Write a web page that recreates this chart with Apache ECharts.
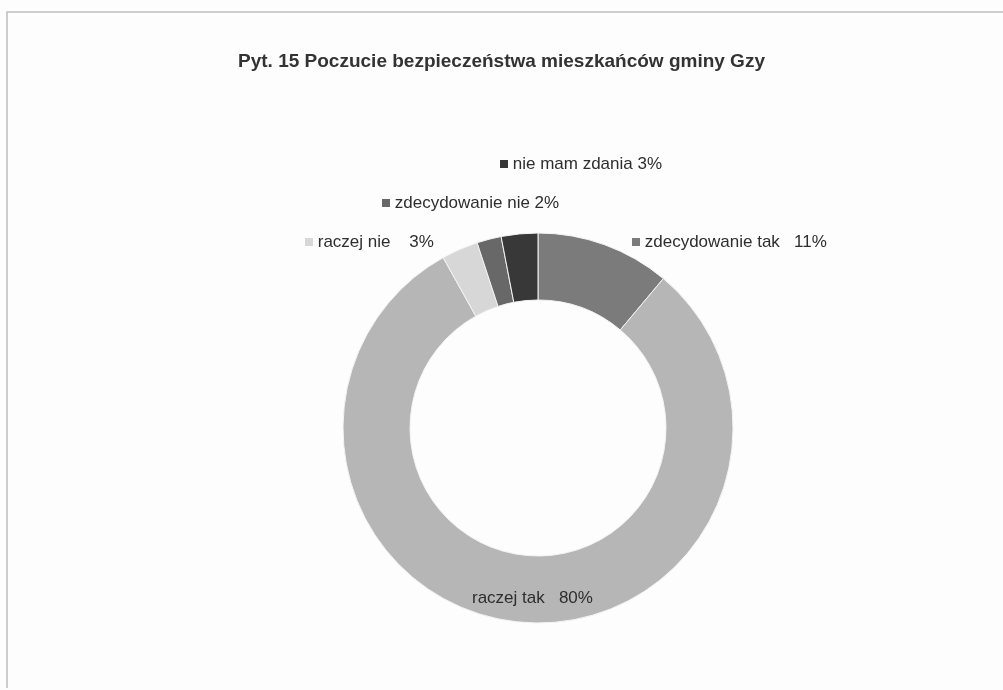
<!DOCTYPE html>
<html>
<head>
<meta charset="utf-8">
<script src="https://cdn.jsdelivr.net/npm/echarts@6/dist/echarts.min.js"></script>
<style>
  html, body { margin: 0; padding: 0; background: #fdfdfd; }
  #chart { width: 1003px; height: 690px; }
</style>
</head>
<body>
<div id="chart"></div>
<script>
const titleText = 'Pyt. 15 Poczucie bezpieczeństwa mieszkańców gminy Gzy'
const categories = ['zdecydowanie tak', 'raczej tak', 'raczej nie', 'zdecydowanie nie', 'nie mam zdania']
const values = [11, 80, 3, 2, 3]
const labelGaps = ['   ', '   ', '    ', ' ', ' ']
const colors = ['#7b7b7b', '#b6b6b6', '#d7d7d7', '#686868', '#383838']

// label anchors (left edge, middle) — placed like the original Excel chart
const labelSpots = [
  [632, 242],
  [472, 598],
  [305, 242],
  [382, 203],
  [500, 164]
]

const rich = {
  t: { fontSize: 17, color: '#2e2e2e', fontFamily: 'Liberation Sans, Arial, sans-serif' }
}
colors.forEach((c, i) => {
  rich['m' + i] = { width: 8, height: 8, backgroundColor: c }
})

const chart = echarts.init(document.getElementById('chart'))
const option = {
  backgroundColor: '#fdfdfd',
  animation: false,
  title: {
    text: titleText,
    left: 'center',
    top: 47,
    textStyle: {
      fontFamily: 'Liberation Sans, Arial, sans-serif',
      fontSize: 19,
      fontWeight: 'bold',
      color: '#333'
    }
  },
  graphic: [
    {
      type: 'polyline',
      shape: { points: [[7, 688], [7, 12], [1003, 12]] },
      style: { stroke: '#bdbdbd', lineWidth: 1.5, fill: null }
    }
  ],
  series: [{
    type: 'pie',
    center: [538, 428],
    radius: [128, 195],
    startAngle: 90,
    clockwise: true,
    data: categories.map((name, i) => ({
      name,
      value: values[i],
      itemStyle: { color: colors[i] }
    })),
    itemStyle: { borderColor: '#f4f4f4', borderWidth: 1 },
    label: {
      show: true,
      position: 'outside',
      formatter: p => {
        const txt = p.name + labelGaps[p.dataIndex] + p.value + '%'
        if (p.dataIndex === 1) return '{t|' + txt + '}'
        return '{m' + p.dataIndex + '|}{t| ' + txt + '}'
      },
      rich
    },
    labelLine: { show: false },
    labelLayout: params => {
      const s = labelSpots[params.dataIndex]
      return { x: s[0], y: s[1], align: 'left', verticalAlign: 'middle' }
    }
  }]
}
chart.setOption(option)
</script>
</body>
</html>
